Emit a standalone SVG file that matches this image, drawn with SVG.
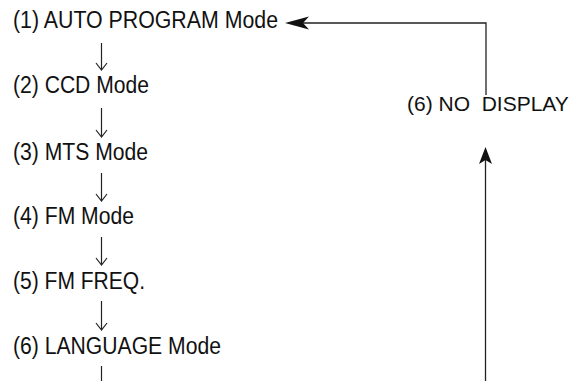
<svg xmlns="http://www.w3.org/2000/svg" width="574" height="381" viewBox="0 0 574 381">
<style>
.t{font-family:"Liberation Sans",Arial,sans-serif;font-size:23px;fill:#111}
.s{font-family:"Liberation Sans",Arial,sans-serif;font-size:21px;fill:#111}
.c{fill:none;stroke:#222;stroke-width:1.3}
.d{fill:none;stroke:#222;stroke-width:1.2}
</style>
<g id="n1"><text class="t" x="13" y="28" textLength="265" lengthAdjust="spacingAndGlyphs">(1) AUTO PROGRAM Mode</text></g>
<g id="n2"><text class="t" x="13" y="93" textLength="136" lengthAdjust="spacingAndGlyphs">(2) CCD Mode</text></g>
<g id="n3"><text class="t" x="13" y="160" textLength="135" lengthAdjust="spacingAndGlyphs">(3) MTS Mode</text></g>
<g id="n4"><text class="t" x="13" y="224" textLength="121" lengthAdjust="spacingAndGlyphs">(4) FM Mode</text></g>
<g id="n5"><text class="t" x="13" y="289" textLength="132" lengthAdjust="spacingAndGlyphs">(5) FM FREQ.</text></g>
<g id="n6"><text class="t" x="13" y="354" textLength="208" lengthAdjust="spacingAndGlyphs">(6) LANGUAGE Mode</text></g>
<g id="n7"><text class="s" x="407" y="111" xml:space="preserve">(6) NO  DISPLAY</text></g>
<g id="connectors">
<path class="d" d="M101.5,43 V70 M96,63 L101.5,70 L107,63"/>
<path class="d" d="M101.5,108 V137 M96,130 L101.5,137 L107,130"/>
<path class="d" d="M101.5,173 V201 M96,194 L101.5,201 L107,194"/>
<path class="d" d="M101.5,237 V265 M96,258 L101.5,265 L107,258"/>
<path class="d" d="M101.5,301 V330 M96,323 L101.5,330 L107,323"/>
<path class="d" d="M101.5,366 V381"/>
<path class="c" d="M486,95 V23 H303"/>
<path d="M285,23 L309,16.5 L303,23 L309,29.5 Z" fill="#111"/>
<path class="c" d="M485.5,381 V160"/>
<path d="M485.5,147 L492,164 L485.5,160 L479,164 Z" fill="#111"/>
</g>
</svg>
